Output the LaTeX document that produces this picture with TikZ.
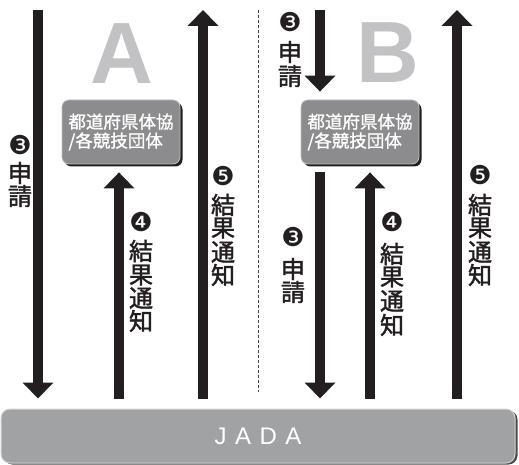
\documentclass[tikz,border=0pt]{standalone}
\usepackage{fontspec}
\usetikzlibrary{arrows.meta,shadows}
\newfontfamily\cjkm{Noto Sans CJK JP}[FakeBold=1.2]
\newfontfamily\cjkl{Noto Sans CJK JP}[FakeBold=1.8]
\newfontfamily\dingf{DejaVu Sans}
\newfontfamily\latinf{Liberation Sans}
\definecolor{ink}{HTML}{231F20}
\definecolor{boxgray}{HTML}{8C8C8E}
\definecolor{boxedge}{HTML}{BDBDBD}
\definecolor{bargray}{HTML}{A1A2A4}
\definecolor{baredge}{HTML}{D2D2D2}
\definecolor{lettergray}{HTML}{C2C2C4}
\begin{document}
\begin{tikzpicture}[x=1pt,y=-1pt,
  flow/.style={draw=ink, line width=10pt, -{Triangle[length=16pt,width=30pt]}},
  orgbox/.style={rounded corners=7pt, fill=boxgray, draw=boxedge, line width=0.8pt,
    minimum width=118pt, minimum height=64pt, inner sep=0pt, text=white,
    font=\cjkm\fontsize{17.5}{19}\selectfont, align=left,
    drop shadow={shadow xshift=2.5pt, shadow yshift=-2.5pt, fill=ink, opacity=1}},
  jadabar/.style={rounded corners=9pt, fill=bargray, draw=baredge, line width=1pt,
    minimum width=514pt, minimum height=54pt, inner sep=0pt, text=white,
    font=\latinf\fontsize{24}{24}\selectfont,
    drop shadow={shadow xshift=2.5pt, shadow yshift=-1.5pt, fill=black!70, opacity=1}},
  bigletter/.style={font=\latinf\bfseries\fontsize{87}{87}\selectfont, text=lettergray, inner sep=0pt},
  cjklab/.style={font=\cjkl\fontsize{24}{24}\selectfont, inner sep=0pt, text=ink},
  numlab/.style={font=\dingf\fontsize{26}{26}\selectfont, inner sep=0pt, text=ink},
  divider/.style={draw=ink!85, line width=1pt, dash pattern=on 3pt off 2pt}
]
\useasboundingbox (0,0) rectangle (519,465);

% bottom bar
\node[jadabar] (jada) at (258,436) {J\kern8.5pt A\kern8.5pt D\kern8.5pt A};

% big letters
\node[bigletter] (letA) at (122,53.5) {A};
\node[bigletter] (letB) at (387.5,52.5) {B};

% organisation boxes
\node[orgbox] (boxA) at (121,132) {都道府県体協\\/各競技団体};
\node[orgbox] (boxB) at (360,132) {都道府県体協\\/各競技団体};

% divider
\coordinate (dtop) at (258,10);
\coordinate (dbot) at (258,392);
\draw[divider] (dtop) -- (dbot);

% free ends / columns
\coordinate (a3top) at (38,10);
\coordinate (a4x) at (119,0);
\coordinate (a5top) at (203,10);
\coordinate (b3top) at (320,10);
\coordinate (b4x) at (370,0);
\coordinate (b5top) at (457,10);

% arrows side A
\draw[flow, shorten >=10pt] (a3top) -- (a3top |- jada.north);
\draw[flow, shorten <=10pt, shorten >=8pt] (a4x |- jada.north) -- (a4x |- boxA.south);
\draw[flow, shorten <=10pt] (a5top |- jada.north) -- (a5top);

% arrows side B
\draw[flow, shorten >=8pt] (b3top) -- (b3top |- boxB.north);
\draw[flow, shorten <=8pt, shorten >=10pt] (b3top |- boxB.south) -- (b3top |- jada.north);
\draw[flow, shorten <=10pt, shorten >=8pt] (b4x |- jada.north) -- (b4x |- boxB.south);
\draw[flow, shorten <=10pt] (b5top |- jada.north) -- (b5top);

% labels side A
\node[numlab] (la3n) at (20,145) {❸};
\node[cjklab] (la3a) at (20,173) {申};
\node[cjklab] (la3b) at (20,196) {請};

\node[numlab] (la4n) at (141,222) {❹};
\node[cjklab] (la4a) at (141,251) {結};
\node[cjklab] (la4b) at (141,275) {果};
\node[cjklab] (la4c) at (141,298) {通};
\node[cjklab] (la4d) at (141,321) {知};

\node[numlab] (la5n) at (223,176) {❺};
\node[cjklab] (la5a) at (223,205) {結};
\node[cjklab] (la5b) at (223,228) {果};
\node[cjklab] (la5c) at (223,252) {通};
\node[cjklab] (la5d) at (223,275) {知};

% labels side B
\node[numlab] (lb3n) at (290,22) {❸};
\node[cjklab] (lb3a) at (290,52) {申};
\node[cjklab] (lb3b) at (290,76) {請};

\node[numlab] (lb3m) at (293,237) {❸};
\node[cjklab] (lb3c) at (293,269) {申};
\node[cjklab] (lb3d) at (293,292) {請};

\node[numlab] (lb4n) at (392,222) {❹};
\node[cjklab] (lb4a) at (392,254) {結};
\node[cjklab] (lb4b) at (392,277) {果};
\node[cjklab] (lb4c) at (392,301) {通};
\node[cjklab] (lb4d) at (392,325) {知};

\node[numlab] (lb5n) at (480,175) {❺};
\node[cjklab] (lb5a) at (480,205) {結};
\node[cjklab] (lb5b) at (480,228) {果};
\node[cjklab] (lb5c) at (480,252) {通};
\node[cjklab] (lb5d) at (480,275) {知};
\end{tikzpicture}
\end{document}
